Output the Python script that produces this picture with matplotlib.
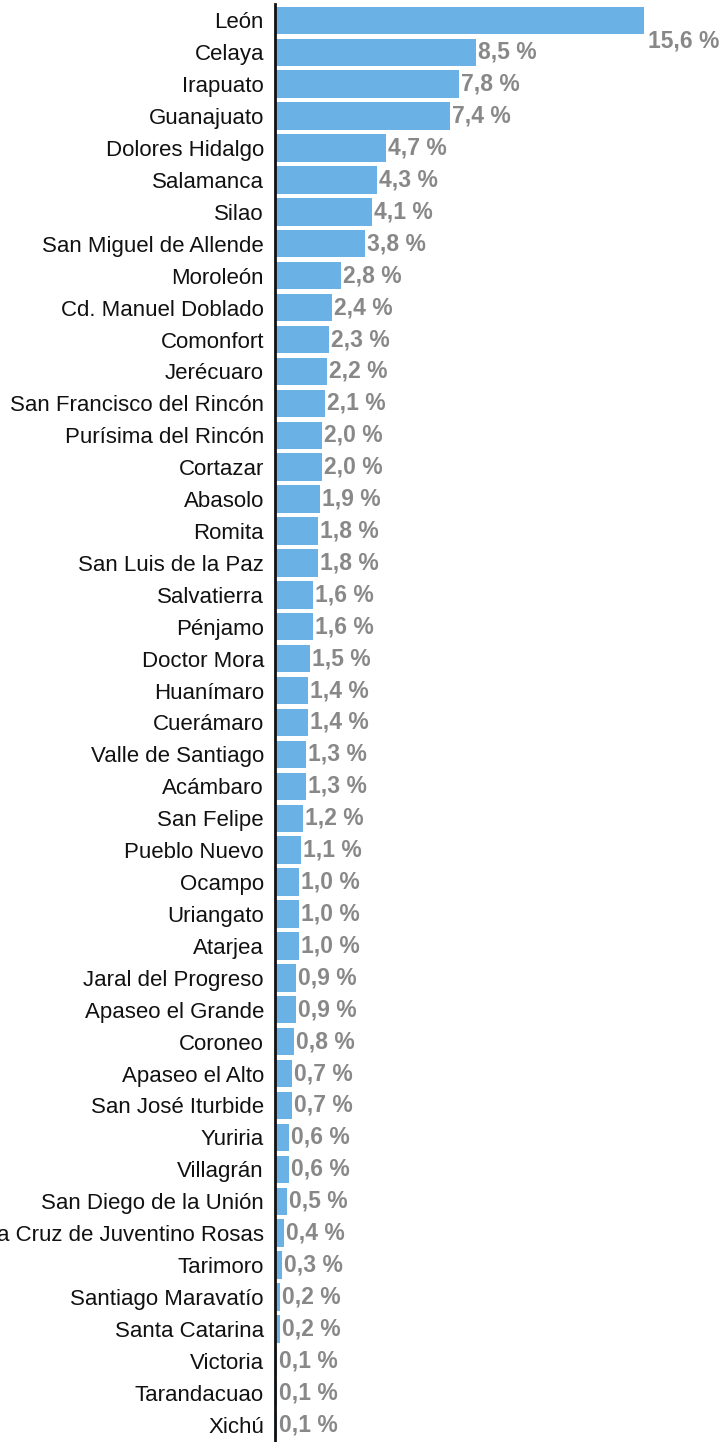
import matplotlib
matplotlib.use("Agg")
import matplotlib.pyplot as plt

categories = ["León", "Celaya", "Irapuato", "Guanajuato", "Dolores Hidalgo", "Salamanca", "Silao",
              "San Miguel de Allende", "Moroleón", "Cd. Manuel Doblado", "Comonfort", "Jerécuaro",
              "San Francisco del Rincón", "Purísima del Rincón", "Cortazar", "Abasolo", "Romita",
              "San Luis de la Paz", "Salvatierra", "Pénjamo", "Doctor Mora", "Huanímaro", "Cuerámaro",
              "Valle de Santiago", "Acámbaro", "San Felipe", "Pueblo Nuevo", "Ocampo", "Uriangato",
              "Atarjea", "Jaral del Progreso", "Apaseo el Grande", "Coroneo", "Apaseo el Alto",
              "San José Iturbide", "Yuriria", "Villagrán", "San Diego de la Unión",
              "Santa Cruz de Juventino Rosas", "Tarimoro", "Santiago Maravatío", "Santa Catarina",
              "Victoria", "Tarandacuao", "Xichú"]
values = [15.6, 8.5, 7.8, 7.4, 4.7, 4.3, 4.1, 3.8, 2.8, 2.4, 2.3, 2.2, 2.1, 2.0, 2.0, 1.9, 1.8,
          1.8, 1.6, 1.6, 1.5, 1.4, 1.4, 1.3, 1.3, 1.2, 1.1, 1.0, 1.0, 1.0, 0.9, 0.9, 0.8, 0.7,
          0.7, 0.6, 0.6, 0.5, 0.4, 0.3, 0.2, 0.2, 0.1, 0.1, 0.1]
labels = [f"{v:.1f} %".replace(".", ",") for v in values]

plt.rcParams['font.family'] = ['Liberation Sans', 'DejaVu Sans']

W, H = 723, 1442
fig = plt.figure(figsize=(W / 100, H / 100), dpi=100)
left = 275 / W
top_px, bot_px = 4.4, 1440.6
ax = fig.add_axes([left, 1 - bot_px / H, 1 - left, (bot_px - top_px) / H])

n = len(categories)
y = list(range(n))
ax.barh(y, values, height=0.86, color="#6AB1E5", zorder=2)
ax.set_ylim(n - 0.5, -0.5)
ax.set_xlim(0, (W - 275) / 23.65)

ax.set_yticks(y)
ax.set_yticklabels(categories, fontsize=16, color="#111111")
ax.tick_params(axis="y", length=0, pad=8)
ax.set_xticks([])
for s in ["top", "right", "bottom"]:
    ax.spines[s].set_visible(False)
ax.spines["left"].set_linewidth(2)
ax.spines["left"].set_color("#111111")
ax.spines["left"].set_zorder(3)

for i, (v, lab) in enumerate(zip(values, labels)):
    if i == 0:
        ax.annotate(lab, (v, i), xytext=(4, -21), textcoords="offset pixels",
                    ha="left", va="center", fontsize=16.5, fontweight="bold", color="#888888")
    else:
        ax.annotate(lab, (v, i), xytext=(2, 0), textcoords="offset pixels",
                    ha="left", va="center", fontsize=16.5, fontweight="bold", color="#888888")

fig.savefig("out.png", dpi=100)
